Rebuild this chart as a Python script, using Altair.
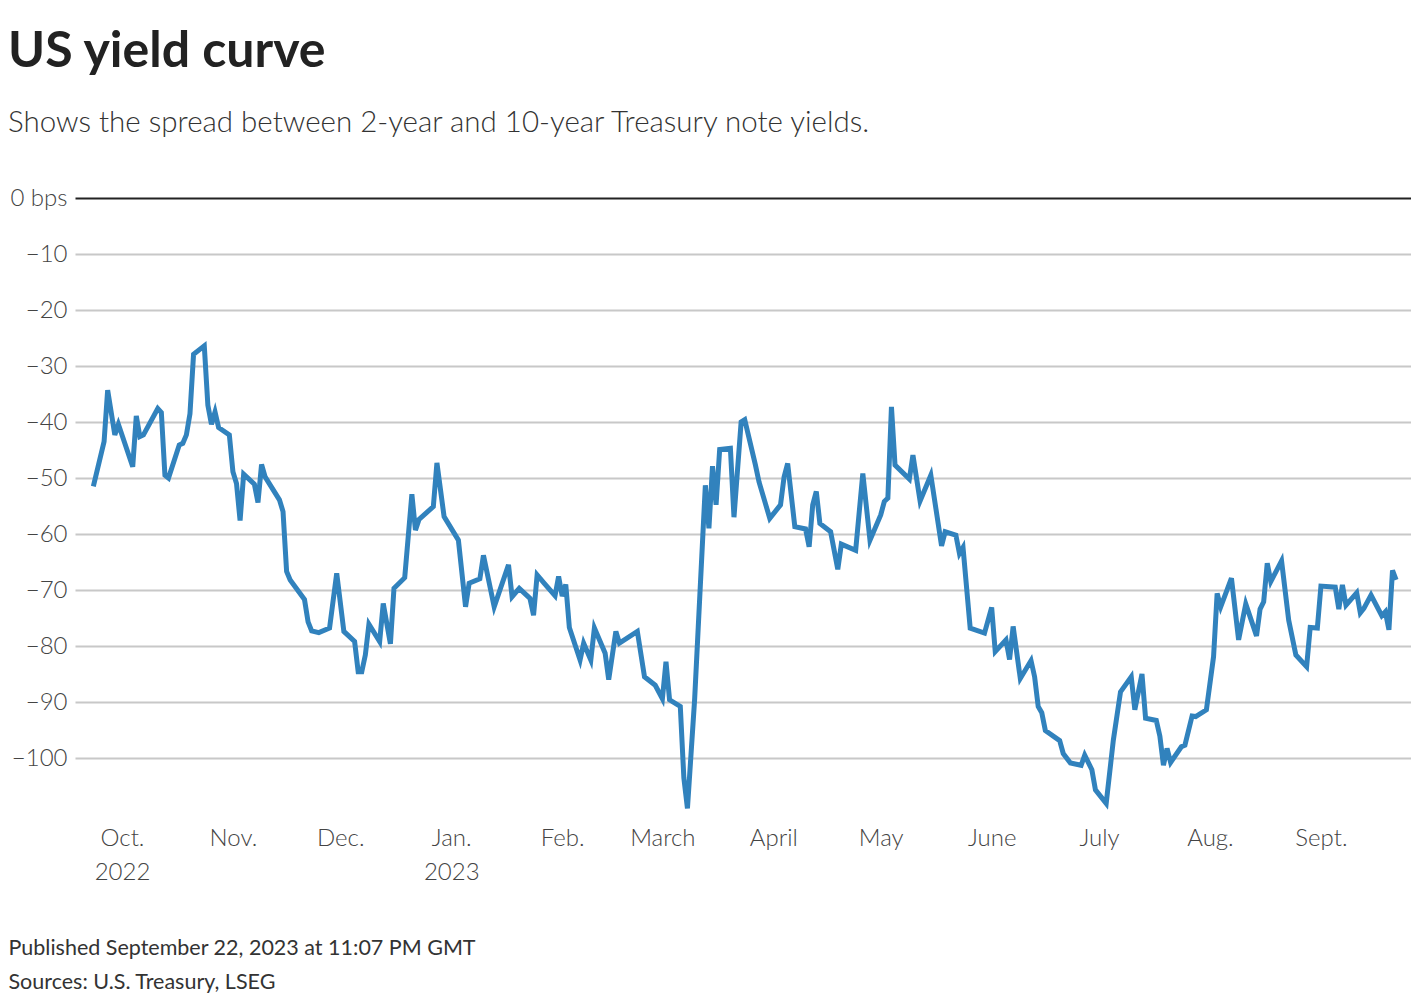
import altair as alt
import pandas as pd

# Spread between 2-year and 10-year Treasury yields, in basis points
dates = [
    "2022-09-23", "2022-09-26", "2022-09-27", "2022-09-29", "2022-09-30",
    "2022-10-04", "2022-10-05", "2022-10-06", "2022-10-07", "2022-10-11",
    "2022-10-12", "2022-10-13", "2022-10-14", "2022-10-17", "2022-10-18",
    "2022-10-19", "2022-10-20", "2022-10-21", "2022-10-24", "2022-10-25",
    "2022-10-26", "2022-10-27", "2022-10-28", "2022-10-31", "2022-11-01",
    "2022-11-02", "2022-11-03", "2022-11-04", "2022-11-07", "2022-11-08",
    "2022-11-09", "2022-11-10", "2022-11-14", "2022-11-15", "2022-11-16",
    "2022-11-17", "2022-11-21", "2022-11-22", "2022-11-23", "2022-11-25",
    "2022-11-28", "2022-11-30", "2022-12-02", "2022-12-05", "2022-12-06",
    "2022-12-07", "2022-12-08", "2022-12-09", "2022-12-12", "2022-12-13",
    "2022-12-15", "2022-12-16", "2022-12-19", "2022-12-21", "2022-12-22",
    "2022-12-23", "2022-12-27", "2022-12-28", "2022-12-30", "2023-01-03",
    "2023-01-05", "2023-01-06", "2023-01-09", "2023-01-10", "2023-01-13",
    "2023-01-17", "2023-01-18", "2023-01-20", "2023-01-23", "2023-01-24",
    "2023-01-25", "2023-01-27", "2023-01-30", "2023-01-31", "2023-02-01",
    "2023-02-02", "2023-02-03", "2023-02-06", "2023-02-07", "2023-02-09",
    "2023-02-10", "2023-02-13", "2023-02-14", "2023-02-16", "2023-02-17",
    "2023-02-22", "2023-02-24", "2023-02-27", "2023-03-01", "2023-03-02",
    "2023-03-03", "2023-03-06", "2023-03-07", "2023-03-08", "2023-03-10",
    "2023-03-13", "2023-03-14", "2023-03-15", "2023-03-16", "2023-03-17",
    "2023-03-20", "2023-03-21", "2023-03-23", "2023-03-24", "2023-03-27",
    "2023-03-28", "2023-03-31", "2023-04-03", "2023-04-04", "2023-04-05",
    "2023-04-07", "2023-04-10", "2023-04-11", "2023-04-12", "2023-04-13",
    "2023-04-14", "2023-04-17", "2023-04-19", "2023-04-20", "2023-04-24",
    "2023-04-26", "2023-04-28", "2023-05-01", "2023-05-02", "2023-05-03",
    "2023-05-04", "2023-05-05", "2023-05-09", "2023-05-10", "2023-05-12",
    "2023-05-15", "2023-05-18", "2023-05-19", "2023-05-22", "2023-05-23",
    "2023-05-24", "2023-05-26", "2023-05-30", "2023-06-01", "2023-06-02",
    "2023-06-05", "2023-06-06", "2023-06-07", "2023-06-09", "2023-06-12",
    "2023-06-13", "2023-06-14", "2023-06-15", "2023-06-16", "2023-06-20",
    "2023-06-21", "2023-06-23", "2023-06-26", "2023-06-27", "2023-06-29",
    "2023-06-30", "2023-07-03", "2023-07-05", "2023-07-07", "2023-07-10",
    "2023-07-11", "2023-07-13", "2023-07-14", "2023-07-17", "2023-07-18",
    "2023-07-19", "2023-07-20", "2023-07-21", "2023-07-24", "2023-07-25",
    "2023-07-27", "2023-07-28", "2023-07-31", "2023-08-02", "2023-08-03",
    "2023-08-04", "2023-08-07", "2023-08-09", "2023-08-11", "2023-08-14",
    "2023-08-15", "2023-08-16", "2023-08-17", "2023-08-18", "2023-08-21",
    "2023-08-23", "2023-08-25", "2023-08-28", "2023-08-29", "2023-08-31",
    "2023-09-01", "2023-09-05", "2023-09-06", "2023-09-07", "2023-09-08",
    "2023-09-11", "2023-09-12", "2023-09-13", "2023-09-15", "2023-09-18",
    "2023-09-19", "2023-09-20", "2023-09-21", "2023-09-22",
]
spread_bps = [
    -51.5, -43.5, -34.3, -42.3, -40.4,
    -48.0, -38.9, -42.6, -42.3, -37.6,
    -38.3, -49.5, -50.0, -44.1, -43.8,
    -42.3, -38.5, -27.9, -26.4, -37.0,
    -40.4, -38.2, -41.0, -42.3, -48.9,
    -51.0, -57.6, -49.3, -51.1, -54.4,
    -47.6, -49.8, -53.9, -56.0, -66.7,
    -68.2, -71.7, -75.7, -77.3, -77.6,
    -76.8, -67.0, -77.4, -79.2, -84.6,
    -84.6, -81.6, -76.1, -79.2, -72.4,
    -79.6, -69.7, -67.8, -52.9, -59.3,
    -57.4, -55.1, -47.3, -56.9, -61.1,
    -73.0, -68.8, -68.0, -63.8, -73.0,
    -65.5, -71.2, -69.7, -71.5, -74.5,
    -67.3, -68.8, -71.0, -67.6, -71.1,
    -69.0, -76.7, -82.5, -79.5, -82.5,
    -76.8, -81.3, -86.0, -77.4, -79.5,
    -77.4, -85.5, -87.0, -89.4, -82.8,
    -89.6, -90.8, -103.6, -109.0, -89.6,
    -51.3, -59.0, -47.9, -54.8, -44.9,
    -44.7, -57.0, -40.0, -39.6, -47.7,
    -50.7, -57.2, -54.8, -49.8, -47.4,
    -58.7, -59.1, -62.3, -54.8, -52.4,
    -58.1, -59.6, -66.3, -61.8, -62.9,
    -49.2, -61.1, -56.6, -54.2, -53.6,
    -37.3, -47.7, -50.2, -45.9, -54.1,
    -49.5, -62.1, -59.6, -60.2, -63.5,
    -62.4, -76.8, -77.7, -73.1, -81.0,
    -78.9, -82.4, -76.5, -85.8, -82.6,
    -85.5, -90.8, -91.9, -95.1, -96.9,
    -99.2, -100.9, -101.3, -99.5, -102.1,
    -105.7, -108.1, -96.8, -88.2, -85.5,
    -91.4, -85.0, -92.9, -93.3, -96.1,
    -101.3, -98.3, -100.8, -98.0, -97.7,
    -92.5, -92.6, -91.4, -81.9, -70.6,
    -73.0, -67.9, -78.9, -72.5, -78.2,
    -73.4, -72.1, -65.2, -68.5, -64.8,
    -75.4, -81.6, -83.7, -76.7, -76.8,
    -69.3, -69.5, -73.4, -69.1, -72.7,
    -70.5, -74.1, -73.3, -70.9, -74.6,
    -73.9, -77.1, -66.5, -68.2,
]

month_names = ["Jan.", "Feb.", "March", "April", "May", "June",
               "July", "Aug.", "Sept.", "Oct.", "Nov.", "Dec."]
year_labels = {9: "2022", 0: "2023"}
y_ticks = [0, -10, -20, -30, -40, -50, -60, -70, -80, -90, -100]
month_ticks = [(2022, m) for m in (10, 11, 12)] + [(2023, m) for m in range(1, 10)]

title_text = "US yield curve"
subtitle_text = "Shows the spread between 2-year and 10-year Treasury note yields."
footer_lines = ["Published September 22, 2023 at 11:07 PM GMT",
                "Sources: U.S. Treasury, LSEG"]

df = pd.DataFrame({"date": dates, "spread": spread_bps})

FONT = "Lato"

names_js = "[" + ",".join("'%s'" % n for n in month_names) + "]"
year_js = " : ".join(
    "utcmonth(datum.value) == %d ? [%s[%d], '%s']" % (m, names_js, m, y)
    for m, y in year_labels.items()
)
x_label_expr = year_js + " : " + names_js + "[utcmonth(datum.value)]"
y_label_expr = "datum.value == 0 ? '0 bps' : '\u2212' + abs(datum.value)"

x_axis = alt.Axis(
    values=[alt.DateTime(year=y, month=m, date=1, utc=True) for y, m in month_ticks],
    labelExpr=x_label_expr,
    grid=False, ticks=False, domain=False,
    labelFont=FONT, labelFontSize=24, labelFontWeight=300, labelColor="#444",
    labelPadding=12, labelLineHeight=34, labelAlign="center", labelBaseline="top",
    labelOverlap=False,
    title=footer_lines, titleFont=FONT, titleFontSize=21.5, titleFontWeight="normal",
    titleColor="#333", titleAlign="left", titleBaseline="top", titleAngle=0,
    titleX=-67, titleY=123, titleLineHeight=34,
)

y_axis = alt.Axis(
    values=y_ticks, labelExpr=y_label_expr,
    ticks=False, domain=False, grid=True,
    gridColor=alt.condition("datum.value == 0", alt.value("#222222"), alt.value("#c8c8c8")),
    gridWidth=2,
    labelFont=FONT, labelFontSize=24, labelFontWeight=300, labelColor="#444",
    labelPadding=8, title=None,
)

chart = alt.Chart(df).mark_line(color="#3182bd", strokeWidth=5).encode(
    x=alt.X("date:T", axis=x_axis,
            scale=alt.Scale(type="utc", domain=[
                alt.DateTime(year=2022, month=9, date=17, hours=21, utc=True),
                alt.DateTime(year=2023, month=9, date=26, hours=4, utc=True)])),
    y=alt.Y("spread:Q", axis=y_axis,
            scale=alt.Scale(domain=[-110, 0], nice=False, zero=False)),
).properties(
    width=1336, height=616,
    title=alt.TitleParams(
        text=title_text, subtitle=subtitle_text,
        anchor="start", frame="bounds",
        font=FONT, fontSize=50, fontWeight="bold", color="#222",
        subtitleFont=FONT, subtitleFontSize=29.5, subtitleFontWeight=300,
        subtitleColor="#333", subtitlePadding=32, offset=49,
    ),
    padding={"left": 0, "top": 18, "right": 0, "bottom": 0},
).configure_view(stroke=None)

chart.save("out.html", embed_options={"renderer": "svg", "actions": False})
